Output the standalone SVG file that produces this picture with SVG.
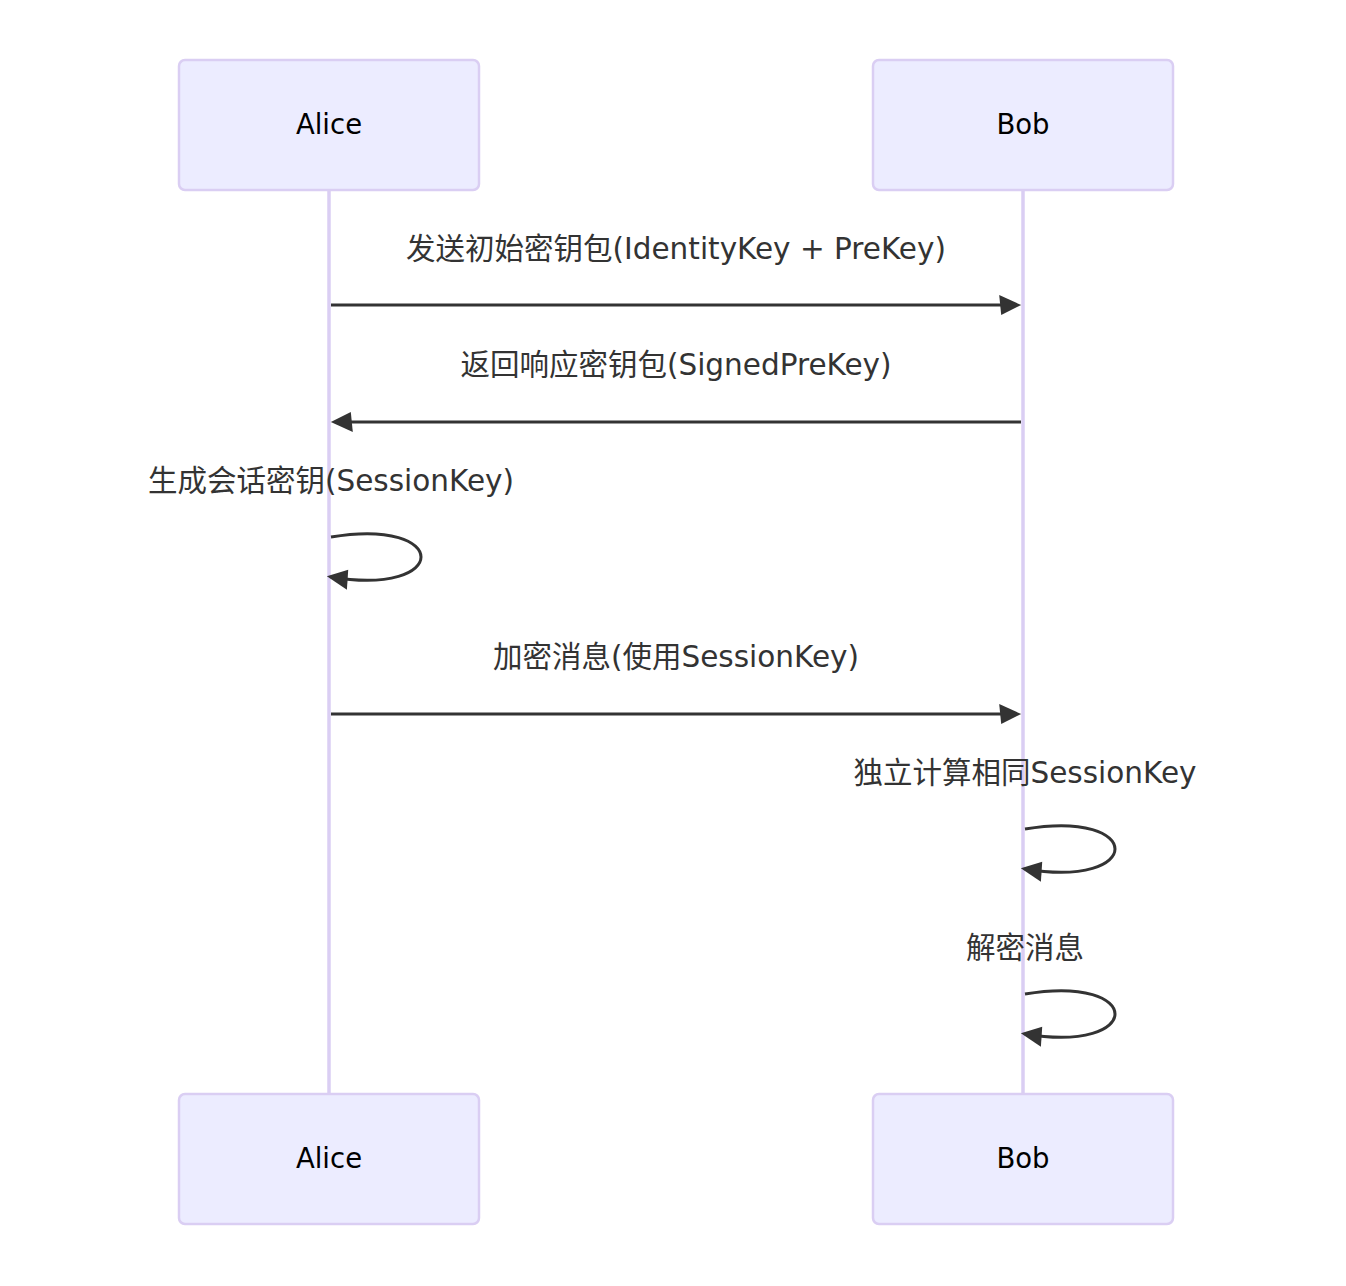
<svg xmlns="http://www.w3.org/2000/svg" width="1346" height="1286" viewBox="0 0 1346 1286">
<defs>
<style>
.actor{fill:#ECECFF;stroke:#dacef3;stroke-width:2.5}
.actorText{font-family:"DejaVu Sans","Noto Sans CJK SC",sans-serif;font-size:27.5px;fill:#000;text-anchor:middle}
.lifeline{stroke:#dacef3;stroke-width:3.5}
.msg{stroke:#333;stroke-width:3;fill:none}
.msgText{font-family:"DejaVu Sans","Noto Sans CJK SC",sans-serif;font-size:29.5px;fill:#333;text-anchor:middle}
</style>
<marker id="arrow" markerUnits="userSpaceOnUse" markerWidth="24" markerHeight="24" refX="15.8" refY="10" orient="auto" overflow="visible">
<path d="M -2 0 L 20 10 L 0 20 z" fill="#333"/>
</marker>
</defs>
<rect width="1346" height="1286" fill="#fff"/>
<g id="lifelines">
<line class="lifeline" x1="329" y1="190" x2="329" y2="1094"/>
<line class="lifeline" x1="1023" y1="190" x2="1023" y2="1094"/>
</g>
<g id="actor-alice-top"><rect class="actor" x="179" y="60" width="300" height="130" rx="6"/><text class="actorText" x="329" y="134">Alice</text></g>
<g id="actor-bob-top"><rect class="actor" x="873" y="60" width="300" height="130" rx="6"/><text class="actorText" x="1023" y="134">Bob</text></g>
<g id="actor-alice-bottom"><rect class="actor" x="179" y="1094" width="300" height="130" rx="6"/><text class="actorText" x="329" y="1168">Alice</text></g>
<g id="actor-bob-bottom"><rect class="actor" x="873" y="1094" width="300" height="130" rx="6"/><text class="actorText" x="1023" y="1168">Bob</text></g>
<g id="connectors">
<line class="msg" x1="331" y1="305" x2="1017" y2="305" marker-end="url(#arrow)"/>
<line class="msg" x1="1021" y1="422" x2="335" y2="422" marker-end="url(#arrow)"/>
<path class="msg" d="M 331,537 C 451,517 451,597 331,577" marker-end="url(#arrow)"/>
<line class="msg" x1="331" y1="714" x2="1017" y2="714" marker-end="url(#arrow)"/>
<path class="msg" d="M 1025,829 C 1145,809 1145,889 1025,869" marker-end="url(#arrow)"/>
<path class="msg" d="M 1025,994 C 1145,974 1145,1054 1025,1034" marker-end="url(#arrow)"/>
</g>
<g id="labels">
<text class="msgText" x="676" y="259">发送初始密钥包(IdentityKey + PreKey)</text>
<text class="msgText" x="676" y="375">返回响应密钥包(SignedPreKey)</text>
<text class="msgText" x="331" y="491">生成会话密钥(SessionKey)</text>
<text class="msgText" x="676" y="667">加密消息(使用SessionKey)</text>
<text class="msgText" x="1025" y="783">独立计算相同SessionKey</text>
<text class="msgText" x="1025" y="958">解密消息</text>
</g>
</svg>
